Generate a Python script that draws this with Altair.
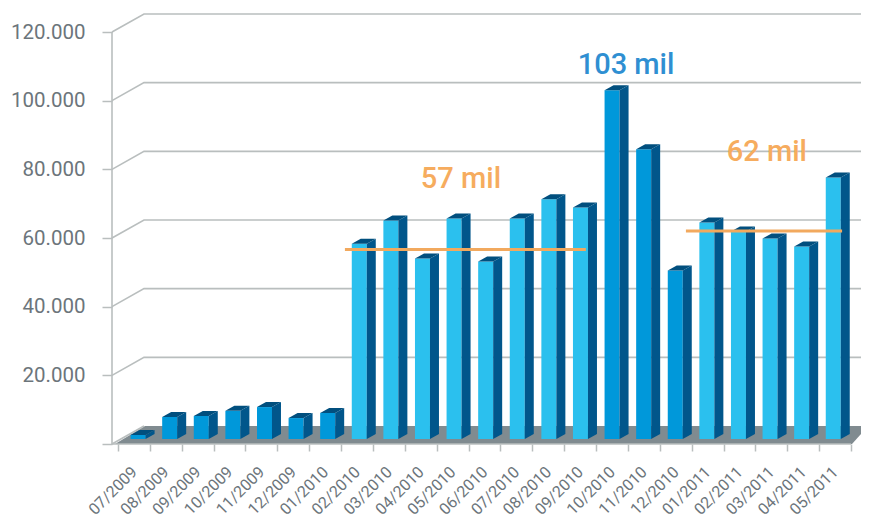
import json
import altair as alt
import pandas as pd

months = ["07/2009","08/2009","09/2009","10/2009","11/2009","12/2009","01/2010","02/2010",
          "03/2010","04/2010","05/2010","06/2010","07/2010","08/2010","09/2010","10/2010",
          "11/2010","12/2010","01/2011","02/2011","03/2011","04/2011","05/2011"]
values = [1200,6400,6700,8200,9300,6100,7600,56900,63650,52550,64200,51700,64200,69800,
          67450,101600,84400,49050,63050,60450,58400,56050,76200]
tones = ["mid"]*7 + ["light"]*8 + ["mid"]*3 + ["light"]*5
y_ticks = [0,20000,40000,60000,80000,100000,120000]

avg_values = [56650, 62040]
avg_start = [7.12, 17.82]
avg_end = [14.68, 22.72]

note_text = ["57 mil", "103 mil", "62 mil"]
note_x = [10.76, 15.94, 20.36]
note_y = [77200, 110430, 84950]
note_color = ["#F6AC5E", "#2F8FD2", "#F6AC5E"]

PX_X = 1 / 31.87
PX_Y = 120000 / 412
X0, X1 = -6 * PX_X, 743 * PX_X
Y1 = 430 * PX_Y
DEPTH_X, DEPTH_Y = 32 * PX_X, 18 * PX_Y
BAR_DX, BAR_DY = 9 * PX_X, 5 * PX_Y
BAR_HALF = 7.5 * PX_X
BAR_BASE = 5 * PX_Y

xs = alt.Scale(domain=[X0, X1], nice=False, zero=False)
ys = alt.Scale(domain=[0, Y1], nice=False, zero=False)
X = lambda f: alt.X(f, type="quantitative", scale=xs, title=None)
Y = lambda f: alt.Y(f, type="quantitative", scale=ys, title=None, stack=None)
X2 = lambda f: alt.X2(f)
Y2 = lambda f: alt.Y2(f)

GRID = "#B9BEBE"
TEXT = "#6C757B"

label_expr_x = "(" + json.dumps(months + [""]) + ")[datum.value]"
label_expr_y = "datum.value === 0 ? '' : replace(format(datum.value, ','), ',', '.')"
x_axis = alt.Axis(
    values=list(range(24)), tickCount=30, labelExpr=label_expr_x, domain=False, grid=False,
    tickColor=GRID, tickWidth=1.5, tickSize=7, labelAngle=315, labelAlign="right",
    labelBaseline="middle", labelOffset=16, labelPadding=18, labelFont="Roboto",
    labelFontSize=16, labelColor=TEXT, labelOverlap=False, labelBound=False,
    labelFlush=False, labelLimit=200)
y_axis = alt.Axis(
    values=y_ticks, labelExpr=label_expr_y, domain=False, grid=False,
    tickColor=GRID, tickWidth=1.5, tickSize=10, labelPadding=17, labelFont="Roboto",
    labelFontSize=20.5, labelColor=TEXT, labelOverlap=False, labelBound=False,
    labelFlush=False, labelLimit=200)

grid_rows = []
for v in y_ticks[1:]:
    for x, y in [(X0, v), (X0 + DEPTH_X, v + DEPTH_Y), (X1, v + DEPTH_Y)]:
        grid_rows.append({"v": v, "x": x, "y": y})
grid = alt.Chart(pd.DataFrame(grid_rows)).mark_line(color=GRID, strokeWidth=1.6).encode(
    x=alt.X("x", type="quantitative", scale=xs, title=None, axis=x_axis),
    y=alt.Y("y", type="quantitative", scale=ys, title=None, axis=y_axis, stack=None),
    detail="v:N", order="x:Q")

wall_rows = [{"k": "left", "x": X0, "y": 0}, {"k": "left", "x": X0, "y": 120000},
             {"k": "base", "x": X0, "y": 0}, {"k": "base", "x": 23, "y": 0},
             {"k": "edge", "x": X0, "y": 0}, {"k": "edge", "x": X0 + DEPTH_X, "y": DEPTH_Y}]
walls = alt.Chart(pd.DataFrame(wall_rows)).mark_line(color=GRID, strokeWidth=1.6).encode(
    x=X("x"), y=Y("y"), detail="k:N")

floor_df = pd.DataFrame({"y": [0, DEPTH_Y],
                         "a": [-3 * PX_X, 27 * PX_X],
                         "b": [734 * PX_X, 750 * PX_X]})
floor = alt.Chart(floor_df).mark_area(color="#808B90", orient="horizontal", opacity=1, clip=True).encode(
    y=Y("y"), x=X("a"), x2=X2("b"))

rows, side_rows, top_rows = [], [], []
for i, (m, v, t) in enumerate(zip(months, values, tones)):
    c = 0.63 + i * 0.9915
    l, r = c - BAR_HALF, c + BAR_HALF
    top = BAR_BASE + v
    rows.append({"m": m, "l": l, "r": r, "b": BAR_BASE, "t": top, "tone": t})
    side_rows.append({"m": m, "x": r, "y": BAR_BASE, "y2": top})
    side_rows.append({"m": m, "x": r + BAR_DX, "y": BAR_BASE + BAR_DY, "y2": top + BAR_DY})
    top_rows.append({"m": m, "y": top, "a": l, "b": r})
    top_rows.append({"m": m, "y": top + BAR_DY, "a": l + BAR_DX, "b": r + BAR_DX})

front = alt.Chart(pd.DataFrame(rows)).mark_rect().encode(
    x=X("l"), x2=X2("r"), y=Y("b"), y2=Y2("t"),
    color=alt.Color("tone:N", legend=None,
                    scale=alt.Scale(domain=["mid", "light"], range=["#0098DA", "#2BC0EE"])))
side = alt.Chart(pd.DataFrame(side_rows)).mark_area(color="#01568B", opacity=1).encode(
    x=X("x"), y=Y("y"), y2=Y2("y2"), detail="m:N")
cap = alt.Chart(pd.DataFrame(top_rows)).mark_area(color="#014F7E", orient="horizontal", opacity=1).encode(
    y=Y("y"), x=X("a"), x2=X2("b"), detail="m:N")

avg = alt.Chart(pd.DataFrame({"y": avg_values, "a": avg_start, "b": avg_end})).mark_rule(
    color="#F2A95E", strokeWidth=3).encode(x=X("a"), x2=X2("b"), y=Y("y"))

notes = alt.Chart(pd.DataFrame({"t": note_text, "x": note_x, "y": note_y, "c": note_color})).mark_text(
    font="Roboto", fontSize=29, fontWeight=500, align="center", baseline="middle").encode(
    x=X("x"), y=Y("y"), text="t:N", color=alt.Color("c:N", scale=None))

chart = alt.layer(grid, floor, walls, front, side, cap, avg, notes).properties(
    width=749, height=430,
    padding={"left": 104, "top": 6, "right": 0, "bottom": 70},
    autosize=alt.AutoSizeParams(type="none"),
    background="white",
).configure_view(stroke=None)

chart.save("out.html", embed_options={"renderer": "svg", "actions": False})
